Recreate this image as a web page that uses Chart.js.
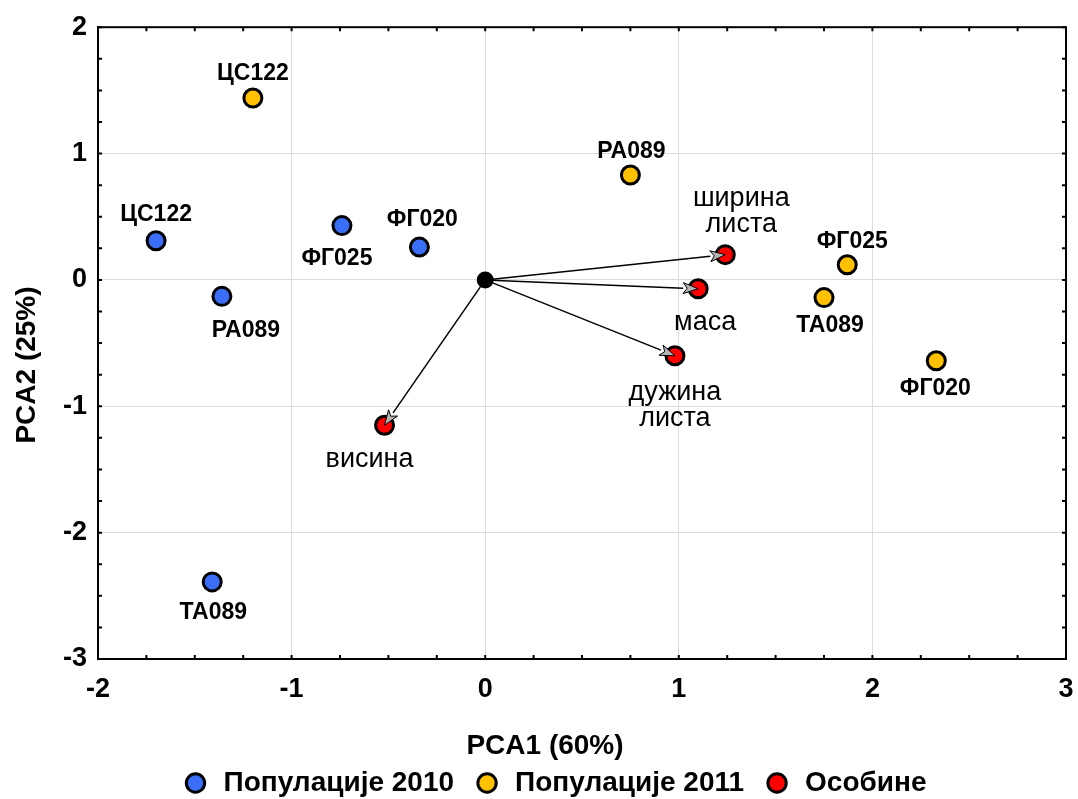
<!DOCTYPE html>
<html>
<head>
<meta charset="utf-8">
<script src="https://cdn.jsdelivr.net/npm/chart.js@4.4.1/dist/chart.umd.min.js"></script>
<style>
  html, body { margin: 0; padding: 0; background: #fff; }
  #wrap { width: 1078px; height: 799px; }
</style>
</head>
<body>
<div id="wrap"><canvas id="pca"></canvas></div>
<script>
// Популације 2010
const names2010 = ['ЦС122', 'РА089', 'ФГ025', 'ФГ020', 'ТА089'];
const pca1_2010 = [-1.70, -1.36, -0.74, -0.34, -1.41];
const pca2_2010 = [0.31, -0.13, 0.43, 0.26, -2.39];

// Популације 2011
const names2011 = ['ЦС122', 'РА089', 'ФГ025', 'ТА089', 'ФГ020'];
const pca1_2011 = [-1.20, 0.75, 1.87, 1.75, 2.33];
const pca2_2011 = [1.44, 0.83, 0.12, -0.14, -0.64];

// Особине (вектори из исходишта)
const traitNames = [['ширина', 'листа'], ['маса'], ['дужина', 'листа'], ['висина']];
const pca1_traits = [1.24, 1.10, 0.98, -0.52];
const pca2_traits = [0.20, -0.07, -0.60, -1.15];

const xTicks = [-2, -1, 0, 1, 2, 3];
const yTicks = [-3, -2, -1, 0, 1, 2];

// померај натписа у пикселима (само распоред)
const off2010 = [[0, -26], [24, 34], [-5, 33], [3, -27], [1, 31]];
const off2011 = [[0, -24], [1, -23], [5, -23], [6, 28], [-1, 28]];
const offTraits = [[16, -56], [7, 34], [0, 37], [-15, 34]];

const FONT = "'Liberation Sans', Arial, sans-serif";
Chart.defaults.color = '#000';
Chart.defaults.font.family = FONT;

const toPoints = (xs, ys) => xs.map((x, i) => ({ x: x, y: ys[i] }));

// натписи, стрелице, оквир и мале подеоке
const pcaPlugin = {
  id: 'pcaExtras',
  beforeDatasetsDraw(chart) {
    const { ctx, chartArea: a, scales: { x, y } } = chart;
    ctx.save();
    ctx.strokeStyle = '#000';
    ctx.lineWidth = 2;
    // подеоке ка унутра, на све четири стране
    for (let v = -2; v <= 3.001; v += 0.25) {
      const px = x.getPixelForValue(v);
      ctx.beginPath();
      ctx.moveTo(px, a.bottom); ctx.lineTo(px, a.bottom - 4);
      ctx.moveTo(px, a.top); ctx.lineTo(px, a.top + 4);
      ctx.stroke();
    }
    for (let v = -3; v <= 2.001; v += 0.25) {
      const py = y.getPixelForValue(v);
      ctx.beginPath();
      ctx.moveTo(a.left, py); ctx.lineTo(a.left + 4, py);
      ctx.moveTo(a.right, py); ctx.lineTo(a.right - 4, py);
      ctx.stroke();
    }
    ctx.strokeRect(a.left, a.top, a.right - a.left, a.bottom - a.top);
    ctx.restore();
  },
  afterDatasetsDraw(chart) {
    const { ctx, scales: { x, y } } = chart;
    const ox = x.getPixelForValue(0), oy = y.getPixelForValue(0);
    ctx.save();
    // стрелице
    pca1_traits.forEach((v, i) => {
      const tx = x.getPixelForValue(v), ty = y.getPixelForValue(pca2_traits[i]);
      const ang = Math.atan2(ty - oy, tx - ox);
      const len = 15, hw = 5.5;
      const bx = tx - len * Math.cos(ang), by = ty - len * Math.sin(ang);
      ctx.strokeStyle = '#000';
      ctx.lineWidth = 1.5;
      ctx.beginPath();
      ctx.moveTo(ox, oy); ctx.lineTo(bx, by);
      ctx.stroke();
      ctx.beginPath();
      ctx.moveTo(tx, ty);
      ctx.lineTo(bx - hw * Math.sin(ang), by + hw * Math.cos(ang));
      ctx.lineTo(bx + 4 * Math.cos(ang), by + 4 * Math.sin(ang));
      ctx.lineTo(bx + hw * Math.sin(ang), by - hw * Math.cos(ang));
      ctx.closePath();
      ctx.fillStyle = '#b4b4b4';
      ctx.fill();
      ctx.lineWidth = 1;
      ctx.stroke();
    });
    // исходиште
    ctx.fillStyle = '#000';
    ctx.beginPath();
    ctx.arc(ox, oy, 8.5, 0, Math.PI * 2);
    ctx.fill();

    ctx.textAlign = 'center';
    ctx.textBaseline = 'middle';
    ctx.fillStyle = '#000';
    ctx.font = 'bold 23px ' + FONT;
    const drawNames = (names, xs, ys, offs) => names.forEach((n, i) => {
      ctx.fillText(n, x.getPixelForValue(xs[i]) + offs[i][0], y.getPixelForValue(ys[i]) + offs[i][1]);
    });
    drawNames(names2010, pca1_2010, pca2_2010, off2010);
    drawNames(names2011, pca1_2011, pca2_2011, off2011);
    ctx.font = '27px ' + FONT;
    traitNames.forEach((lines, i) => {
      const px = x.getPixelForValue(pca1_traits[i]) + offTraits[i][0];
      const py = y.getPixelForValue(pca2_traits[i]) + offTraits[i][1];
      lines.forEach((t, k) => ctx.fillText(t, px, py + k * 26));
    });
    ctx.restore();
  },
  afterDraw(chart) {
    const { ctx } = chart;
    ctx.save();
    ctx.fillStyle = '#000';
    ctx.font = 'bold 28px ' + FONT;
    ctx.textAlign = 'center';
    ctx.textBaseline = 'middle';
    ctx.fillText('PCA1 (60%)', 545, 746);
    ctx.translate(27, 365);
    ctx.rotate(-Math.PI / 2);
    ctx.fillText('PCA2 (25%)', 0, 0);
    ctx.restore();
  }
};

const pointStyle = (fill) => ({
  backgroundColor: fill,
  borderColor: '#000',
  borderWidth: 3,
  pointRadius: 9,
  pointHoverRadius: 9,
  pointBorderWidth: 3
});

new Chart(document.getElementById('pca'), {
  type: 'scatter',
  data: {
    datasets: [
      Object.assign({ label: 'Популације 2010', data: toPoints(pca1_2010, pca2_2010) }, pointStyle('#3b6ef6')),
      Object.assign({ label: 'Популације 2011', data: toPoints(pca1_2011, pca2_2011) }, pointStyle('#ffc000')),
      Object.assign({ label: 'Особине', data: toPoints(pca1_traits, pca2_traits) }, pointStyle('#ff0000'))
    ]
  },
  options: {
    responsive: true,
    maintainAspectRatio: false,
    animation: false,
    layout: { padding: { top: 24, right: 8, left: 38, bottom: -8 } },
    plugins: {
      tooltip: { enabled: false },
      legend: {
        position: 'bottom',
        labels: {
          usePointStyle: true,
          pointStyle: 'circle',
          boxWidth: 28,
          boxHeight: 13,
          padding: 19,
          font: { size: 28, weight: 'bold' }
        }
      }
    },
    scales: {
      x: {
        type: 'linear',
        min: -2, max: 3,
        afterBuildTicks: (s) => { s.ticks = xTicks.map(v => ({ value: v })); },
        afterFit: (s) => { s.height = 91; s.paddingRight = 0; s.paddingLeft = 0; },
        grid: { color: '#dcdcdc', lineWidth: 1, drawTicks: false },
        border: { color: '#000', width: 2 },
        ticks: { padding: 14, font: { size: 27, weight: 'bold' }, color: '#000' }
      },
      y: {
        type: 'linear',
        min: -3, max: 2,
        afterBuildTicks: (s) => { s.ticks = yTicks.map(v => ({ value: v })); },
        afterFit: (s) => { s.width = 60; },
        grid: { color: '#dcdcdc', lineWidth: 1, drawTicks: false },
        border: { color: '#000', width: 2 },
        ticks: { padding: 11, font: { size: 27, weight: 'bold' }, color: '#000' }
      }
    }
  },
  plugins: [pcaPlugin]
});
</script>
</body>
</html>
